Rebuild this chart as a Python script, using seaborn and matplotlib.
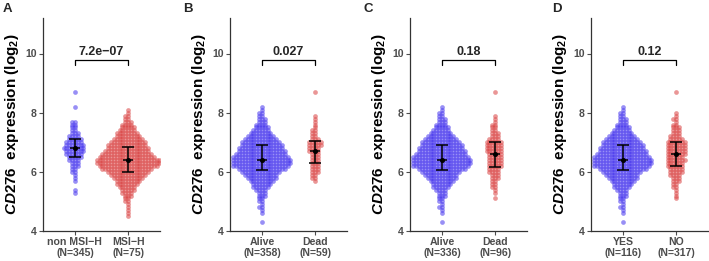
import matplotlib.pyplot as plt
import numpy as np
import pandas as pd
import seaborn as sns

sns.set_theme(style="ticks")
plt.rcParams["font.family"] = ["Liberation Sans", "DejaVu Sans"]
plt.rcParams["mathtext.fontset"] = "custom"
plt.rcParams["mathtext.rm"] = "Liberation Sans:bold"
plt.rcParams["mathtext.it"] = "Liberation Sans:italic:bold"
plt.rcParams["mathtext.bf"] = "Liberation Sans:bold"

blue, red = "#4433EE", "#D94040"
gray = "#4D4D4D"

# expression level (log2) -> number of samples
msi_non = {8.7: 1, 8.2: 1, 7.7: 2, 7.6: 2, 7.5: 2, 7.4: 2, 7.3: 3, 7.2: 4, 7.1: 5, 7.0: 6,
           6.9: 7, 6.8: 8, 6.7: 7, 6.6: 6, 6.5: 5, 6.4: 4, 6.3: 3, 6.2: 3, 6.1: 2, 6.0: 2,
           5.9: 1, 5.8: 1, 5.7: 1, 5.4: 1, 5.3: 1}
msi_h = {8.1: 1, 8.0: 1, 7.9: 2, 7.8: 2, 7.7: 3, 7.6: 4, 7.5: 5, 7.4: 6, 7.3: 8, 7.2: 9,
         7.1: 11, 7.0: 13, 6.9: 14, 6.8: 15, 6.7: 16, 6.6: 18, 6.5: 20, 6.4: 23, 6.3: 23, 6.2: 21,
         6.1: 18, 6.0: 15, 5.9: 13, 5.8: 11, 5.7: 9, 5.6: 8, 5.5: 6, 5.4: 5, 5.3: 4, 5.2: 3,
         5.1: 2, 5.0: 2, 4.9: 1, 4.8: 1, 4.7: 1, 4.6: 1, 4.5: 1}
alive = {8.2: 1, 8.1: 1, 8.0: 2, 7.9: 2, 7.8: 3, 7.7: 3, 7.6: 4, 7.5: 5, 7.4: 6, 7.3: 8,
         7.2: 10, 7.1: 12, 7.0: 14, 6.9: 15, 6.8: 16, 6.7: 17, 6.6: 18, 6.5: 20, 6.4: 21, 6.3: 21,
         6.2: 20, 6.1: 17, 6.0: 14, 5.9: 12, 5.8: 11, 5.7: 9, 5.6: 7, 5.5: 6, 5.4: 4, 5.3: 3,
         5.2: 3, 5.1: 2, 5.0: 2, 4.9: 1, 4.8: 2, 4.7: 1, 4.6: 1, 4.3: 1}
dead_b = {8.7: 1, 7.9: 1, 7.8: 1, 7.7: 1, 7.6: 1, 7.5: 1, 7.4: 2, 7.3: 2, 7.2: 2, 7.1: 3,
          7.0: 5, 6.9: 5, 6.8: 4, 6.7: 4, 6.6: 3, 6.5: 3, 6.4: 3, 6.3: 3, 6.2: 3, 6.1: 3,
          6.0: 3, 5.9: 2, 5.8: 2, 5.7: 1}
dead_c = {8.7: 1, 7.9: 1, 7.8: 1, 7.7: 1, 7.6: 2, 7.5: 2, 7.4: 2, 7.3: 3, 7.2: 3, 7.1: 4,
          7.0: 6, 6.9: 6, 6.8: 6, 6.7: 6, 6.6: 5, 6.5: 5, 6.4: 5, 6.3: 5, 6.2: 5, 6.1: 4,
          6.0: 4, 5.9: 3, 5.8: 3, 5.7: 2, 5.6: 2, 5.5: 2, 5.4: 1, 5.3: 1, 5.1: 1}
meta_no = {8.7: 1, 8.0: 1, 7.9: 1, 7.8: 2, 7.7: 1, 7.6: 2, 7.5: 3, 7.4: 3, 7.3: 3, 7.2: 4,
           7.1: 5, 7.0: 7, 6.9: 7, 6.8: 7, 6.7: 7, 6.6: 7, 6.5: 6, 6.4: 7, 6.3: 6, 6.2: 6,
           6.1: 5, 6.0: 5, 5.9: 4, 5.8: 3, 5.7: 3, 5.6: 2, 5.5: 2, 5.4: 1, 5.3: 1, 5.2: 1, 5.1: 1}

panels = [
    ("A", ["non MSI\u2212H\n(N=345)", "MSI\u2212H\n(N=75)"], [msi_non, msi_h], "7.2e\u221207"),
    ("B", ["Alive\n(N=358)", "Dead\n(N=59)"], [alive, dead_b], "0.027"),
    ("C", ["Alive\n(N=336)", "Dead\n(N=96)"], [alive, dead_c], "0.18"),
    ("D", ["YES\n(N=116)", "NO\n(N=317)"], [alive, meta_no], "0.12"),
]
lefts_px = [43, 230, 410, 591]
letters_px = [3, 183, 363, 552]

W, H = 709, 261
fig = plt.figure(figsize=(W / 100, H / 100), dpi=100)
positions = [0, 0.5]
swarms = []

for (letter, labels, groups, pval), lpx, tpx in zip(panels, lefts_px, letters_px):
    ax = fig.add_axes([lpx / W, 30 / H, 117 / W, 213 / H])
    for pos, grp, color in zip(positions, groups, [blue, red]):
        vals = np.repeat(list(grp.keys()), list(grp.values()))
        df = pd.DataFrame({"pos": np.full(len(vals), pos), "expr": vals})
        sns.swarmplot(data=df, x="pos", y="expr", native_scale=True, orient="x",
                      color=color, size=1.95, linewidth=0, ax=ax, warn_thresh=1)
        swarms.append((ax, ax.collections[-1], color))
        q1, med, q3 = np.percentile(vals, [25, 50, 75])
        ax.errorbar(pos, med, yerr=[[med - q1], [q3 - med]], fmt="o", color="black",
                    ms=2.6, lw=1.1, capsize=4.6, capthick=1.1, zorder=5)
        ax.hlines(med, pos - 0.044, pos + 0.044, color="black", lw=1.1, zorder=5)
    # significance bracket
    ax.plot([0, 0, 0.5, 0.5], [9.62, 9.78, 9.78, 9.62], color="black", lw=0.9)
    ax.text(0.25, 9.86, pval, ha="center", va="bottom", fontsize=9, fontweight="bold")

    ax.set_xlim(-0.3, 0.8)
    ax.set_ylim(4, 11.2)
    ax.set_xticks(positions, labels)
    ax.set_yticks([4, 6, 8, 10])
    ax.tick_params(axis="both", colors=gray, labelsize=7.6, length=3, width=0.8, pad=1.5)
    for t in ax.get_xticklabels() + ax.get_yticklabels():
        t.set_fontweight("bold")
        t.set_color(gray)
        t.set_linespacing(1.05)
    ax.set_xlabel("")
    ax.set_ylabel(r"$\mathit{CD276}$  expression (log$_2$)", fontsize=11,
                  fontweight="bold", color="black", labelpad=3)
    ax.spines[["top", "right"]].set_visible(False)
    ax.spines[["left", "bottom"]].set_color("#333333")
    ax.spines[["left", "bottom"]].set_linewidth(0.9)
    fig.text(tpx / W, 1 - 9 / H, letter, fontsize=9.5, fontweight="bold",
             ha="left", va="center")

# let seaborn place the swarms, then redraw them with slightly overlapping dots
fig.canvas.draw()
for ax, coll, color in swarms:
    xy = np.asarray(coll.get_offsets())
    coll.remove()
    ax.scatter(xy[:, 0], xy[:, 1], s=3.4 ** 2, color=color, alpha=0.55, lw=0, zorder=2)

fig.savefig("out.png", dpi=100)
